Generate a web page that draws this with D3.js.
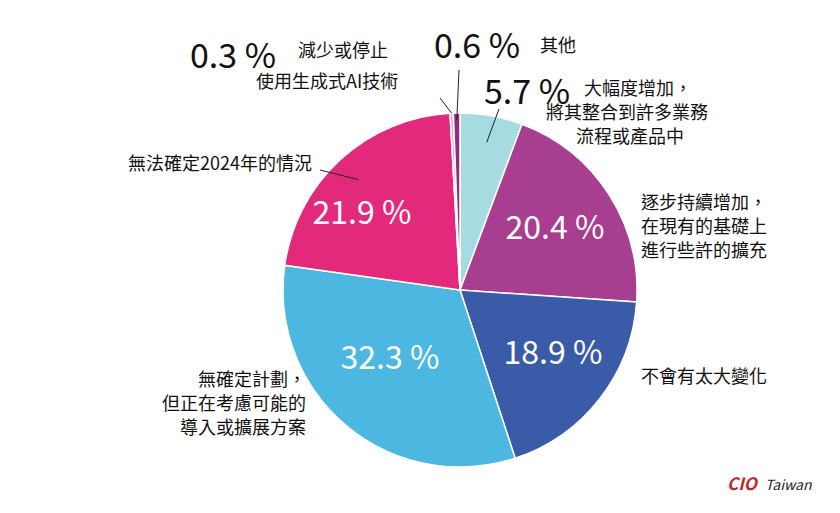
<!DOCTYPE html>
<html><head><meta charset="utf-8">
<script src="https://cdn.jsdelivr.net/npm/d3@7/dist/d3.min.js"></script>
<style>body{margin:0;background:#fff}text{font-family:"Noto Sans CJK TC","Noto Sans",sans-serif}</style>
</head><body><svg id="c" width="840" height="513"></svg>
<script>
const categories=["大幅度增加，將其整合到許多業務流程或產品中","逐步持續增加，在現有的基礎上進行些許的擴充","不會有太大變化","無確定計劃，但正在考慮可能的導入或擴展方案","無法確定2024年的情況","減少或停止使用生成式AI技術","其他"];
const values=[5.7,20.4,18.9,32.3,21.9,0.3,0.6];
const colors=["#a6dbe2","#a83e8f","#3a5ba8","#4cb8e1","#e3297b","#f0a8c8","#8e2e83"];
const svg=d3.select("#c");
const cx=460,cy=290,r=177;
const g=svg.append("g").attr("transform",`translate(${cx},${cy})`);
const pie=d3.pie().sort(null).value(d=>d)(values);
const arc=d3.arc().innerRadius(0).outerRadius(r);
g.selectAll("path").data(pie).enter().append("path").attr("d",arc)
 .attr("fill",(d,i)=>colors[i]).attr("stroke","#fff").attr("stroke-width",1.5);
const inside={1:[555,230],2:[553,355],3:[390,360],4:[362,215]};
Object.entries(inside).forEach(([i,p])=>{
 svg.append("text").attr("x",p[0]).attr("y",p[1]).attr("text-anchor","middle").attr("dominant-baseline","middle")
  .attr("font-size",32).attr("font-family","Noto Sans").attr("fill","#fff").text(values[i].toFixed(1)+" %");
});
const outs=[{i:0,x:484,y:104},{i:5,x:190,y:68},{i:6,x:434,y:58}];
outs.forEach(o=>{
 svg.append("text").attr("x",o.x).attr("y",o.y).attr("font-size",34).attr("font-family","Noto Sans").attr("fill","#111").text(values[o.i].toFixed(1)+" %");
});
const ang=(i)=>(pie[i].startAngle+pie[i].endAngle)/2;
function leader(i,x2,y2,rr){const a=ang(i);const x1=cx+Math.sin(a)*rr,y1=cy-Math.cos(a)*rr;
 svg.append("line").attr("x1",x1).attr("y1",y1).attr("x2",x2).attr("y2",y2).attr("stroke","#222").attr("stroke-width",1);}
leader(0,499,109,150);
leader(5,440,98,177);
leader(6,459,70,170);
leader(4,320,170,150);
function txt(lines,x,y,anchor){const t=svg.append("text").attr("x",x).attr("y",y).attr("font-size",18).attr("fill","#111").attr("text-anchor",anchor||"start");
 lines.forEach((l,k)=>t.append("tspan").attr("x",x).attr("dy",k?24:0).text(l));}
txt(["大幅度增加，"],584,95);
txt(["將其整合到許多業務"],546,119);
txt(["流程或產品中"],576,143);
txt(["逐步持續增加，","在現有的基礎上","進行些許的擴充"],641,209);
txt(["不會有太大變化"],641,383);
txt(["無確定計劃，","但正在考慮可能的","導入或擴展方案"],306,386,"end");
txt(["無法確定2024年的情況"],312,170,"end");
txt(["減少或停止"],298,57);
txt(["使用生成式AI技術"],256,88);
txt(["其他"],540,52);
svg.append("text").attr("x",727).attr("y",490).attr("font-size",17).attr("font-weight","bold").attr("font-style","italic").attr("fill","#c0262d").attr("font-family","DejaVu Sans").text("CIO");
svg.append("text").attr("x",765).attr("y",490).attr("font-size",14).attr("font-style","italic").attr("fill","#222").attr("font-family","DejaVu Serif").text("Taiwan");
</script></body></html>
